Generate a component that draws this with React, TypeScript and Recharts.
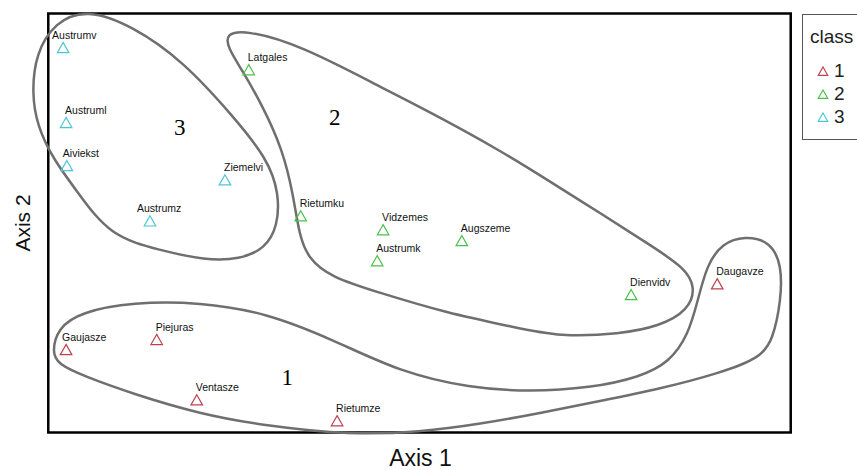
import {
  ComposedChart,
  Legend,
  Line,
  ReferenceArea,
  Scatter,
  XAxis,
  YAxis,
} from "recharts";

// ============================================================================
// Data (ordination scores, frame spans 0..100 on both)
// ============================================================================

const SITES = [
  "Austrumv", "Austruml", "Aiviekst", "Austrumz", "Ziemelvi",
  "Latgales", "Rietumku", "Vidzemes", "Austrumk", "Augszeme", "Dienvidv",
  "Daugavze", "Gaujasze", "Piejuras", "Ventasze", "Rietumze",
];
const AXIS1 = [2.0, 2.4, 2.5, 13.7, 23.8, 27.0, 34.0, 45.1, 44.3, 55.7, 78.5, 90.1, 2.4, 14.6, 20.0, 38.9];
const AXIS2 = [91.8, 73.9, 63.6, 50.4, 60.2, 86.5, 51.6, 48.3, 40.9, 45.7, 32.8, 35.4, 19.7, 22.1, 7.7, 2.7];
const CLASS = [3, 3, 3, 3, 3, 2, 2, 2, 2, 2, 2, 1, 1, 1, 1, 1];
const CLASSES = [1, 2, 3];

// hand-drawn group outlines (x, y pairs in axis units)
const HULL_1: [number, number][] = [
  [0.5, 19.2], [1.3, 24.9], [4.3, 28.7], [11.4, 31.1], [20.4, 31.1], [29.5, 28.5],
  [38.4, 22.1], [47.4, 14.4], [56.8, 10.6], [64.9, 9.7], [73.0, 10.6], [79.7, 13.2],
  [83.7, 16.8], [86.2, 23.3], [87.5, 31.6], [88.7, 40.0], [90.8, 45.2], [93.8, 46.9],
  [97.2, 45.7], [98.8, 40.0], [98.7, 31.6], [97.6, 22.1], [95.9, 17.8], [90.5, 14.2],
  [82.4, 10.4], [74.3, 7.5], [66.2, 4.6], [58.2, 2.0], [50.1, 0.1], [40.6, -0.6],
  [29.5, 1.5], [20.4, 4.4], [11.4, 9.2], [4.7, 13.5], [1.3, 16.3],
];
const HULL_2: [number, number][] = [
  [23.9, 95.1], [26.5, 96.1], [33.9, 92.5], [44.7, 82.5], [51.4, 76.5], [60.8, 67.4],
  [67.2, 60.3], [74.3, 52.4], [81.1, 44.7], [85.8, 39.2], [87.2, 34.5], [86.2, 29.2],
  [82.4, 25.4], [77.0, 23.5], [68.9, 22.8], [62.6, 25.2], [53.7, 28.5], [44.7, 33.3],
  [38.0, 37.1], [35.0, 41.6], [33.8, 47.1], [33.0, 56.7], [31.6, 67.4], [28.8, 78.2],
  [26.1, 86.5], [24.2, 91.8],
];
const HULL_3: [number, number][] = [
  [5.2, 101.1], [11.4, 97.0], [18.2, 88.6], [24.9, 75.5], [29.5, 65.4], [31.1, 57.1],
  [30.9, 49.2], [29.2, 43.9], [25.8, 41.3], [21.1, 41.1], [15.1, 43.5], [8.3, 46.8],
  [3.9, 57.5], [0.6, 65.4], [-1.5, 73.3], [-2.2, 80.9], [-1.7, 90.4], [0.9, 98.0],
];
const HULLS = [HULL_1, HULL_2, HULL_3];

// group numbers written inside the outlines
const GROUP_TAGS = ["1", "2", "3"];
const GROUP_X = [32.2, 38.6, 17.7];
const GROUP_Y = [13.2, 75.3, 72.9];

// ============================================================================
// Styles
// ============================================================================

const COLORS: Record<number, string> = {
  1: "#c0404e",
  2: "#4cc04c",
  3: "#4cc6d6",
};
const HULL_STROKE = "#6f6f6f";
const SANS = "'Liberation Sans', Arial, sans-serif";
const SERIF = "'Liberation Serif', 'Times New Roman', serif";

// a few labels sit further left of their marker in the original plot
const LABEL_NUDGE: Record<string, number> = {
  Austrumv: -10,
  Austrumz: -12,
  Aiviekst: -3,
  Gaujasze: -3,
};

function triPath(cx: number, cy: number, r: number) {
  return `M${cx},${cy - r} L${cx + r * 1.05},${cy + r * 0.85} L${cx - r * 1.05},${cy + r * 0.85} Z`;
}

function SiteMarker(props: any) {
  const { cx, cy, payload, fill } = props;
  if (cx == null || cy == null) return null;
  const dx = LABEL_NUDGE[payload.name] ?? 0;
  return (
    <g>
      <path d={triPath(cx, cy, 5.5)} fill="none" stroke={fill} strokeWidth={1.2} />
      <text
        x={cx - 1 + dx}
        y={cy - 9}
        fontSize={10.5}
        fontFamily={SANS}
        fill="#111"
      >
        {payload.name}
      </text>
    </g>
  );
}

function GroupTag(props: any) {
  const { cx, cy, payload } = props;
  if (cx == null || cy == null) return null;
  return (
    <text
      x={cx}
      y={cy}
      fontSize={23}
      fontFamily={SERIF}
      textAnchor="middle"
      dominantBaseline="central"
      fill="#000"
    >
      {payload.tag}
    </text>
  );
}

// legend box runs off the right edge of the picture, as in the original
function ClassLegend() {
  return (
    <div
      style={{
        borderTop: "1px solid #555",
        borderLeft: "1px solid #555",
        borderBottom: "1px solid #555",
        width: 55,
        height: 126,
        overflow: "hidden",
        whiteSpace: "nowrap",
        boxSizing: "border-box",
        padding: "8px 0 0 7px",
        fontFamily: SANS,
        fontSize: 19,
        color: "#222",
        background: "#fff",
      }}
    >
      <div style={{ lineHeight: "28px", marginBottom: 8 }}>class</div>
      {CLASSES.map((c) => (
        <div
          key={c}
          style={{ display: "flex", alignItems: "center", height: 23, lineHeight: "23px" }}
        >
          <svg width={20} height={14} style={{ marginLeft: 4, flex: "none" }}>
            <path d={triPath(9, 7.5, 4.5)} fill="none" stroke={COLORS[c]} strokeWidth={1.2} />
          </svg>
          <span>{c}</span>
        </div>
      ))}
    </div>
  );
}

export default function App() {
  const sites = SITES.map((name, i) => ({
    name,
    x: AXIS1[i],
    y: AXIS2[i],
    cls: CLASS[i],
  }));
  const tags = GROUP_TAGS.map((tag, i) => ({ tag, x: GROUP_X[i], y: GROUP_Y[i] }));

  return (
    <div
      style={{
        position: "absolute",
        left: 0,
        top: 0,
        width: 857,
        height: 470,
        overflow: "hidden",
        background: "#fff",
      }}
    >
      <ComposedChart
        width={857}
        height={470}
        margin={{ top: 1, right: 44, bottom: 0, left: 0 }}
      >
        <XAxis
          type="number"
          dataKey="x"
          domain={[-3, 103]}
          allowDataOverflow
          axisLine={false}
          tickLine={false}
          tick={false}
          height={25}
          label={(p: any) => (
            <text
              x={p.viewBox.x + p.viewBox.width / 2 + 1}
              y={458}
              fontSize={23}
              fontFamily={SANS}
              textAnchor="middle"
              dominantBaseline="central"
              fill="#111"
            >
              Axis 1
            </text>
          )}
        />
        <YAxis
          type="number"
          dataKey="y"
          domain={[-3, 103]}
          allowDataOverflow
          axisLine={false}
          tickLine={false}
          tick={false}
          width={26}
          label={(p: any) => {
            const cy = p.viewBox.y + p.viewBox.height / 2;
            return (
              <text
                x={22}
                y={cy}
                transform={`rotate(-90 22 ${cy})`}
                fontSize={21}
                fontFamily={SANS}
                textAnchor="middle"
                dominantBaseline="central"
                fill="#111"
              >
                Axis 2
              </text>
            );
          }}
        />
        <ReferenceArea
          x1={0}
          x2={100}
          y1={0}
          y2={100}
          fill="none"
          stroke="#000"
          strokeWidth={2.5}
          ifOverflow="visible"
        />
        {HULLS.map((hull, i) => (
          <Line
            key={i}
            data={hull.map(([x, y]) => ({ x, y }))}
            dataKey="y"
            type="basisClosed"
            stroke={HULL_STROKE}
            strokeWidth={2.5}
            dot={false}
            activeDot={false}
            legendType="none"
            isAnimationActive={false}
          />
        ))}
        {CLASSES.map((c) => (
          <Scatter
            key={c}
            name={String(c)}
            data={sites.filter((s) => s.cls === c)}
            fill={COLORS[c]}
            shape={<SiteMarker />}
            isAnimationActive={false}
          />
        ))}
        <Scatter
          data={tags}
          shape={<GroupTag />}
          legendType="none"
          isAnimationActive={false}
        />
        <Legend
          layout="horizontal"
          verticalAlign="middle"
          align="center"
          content={() => <ClassLegend />}
          wrapperStyle={{ position: "absolute", left: 802, top: 14, width: 55, height: 126 }}
        />
      </ComposedChart>
    </div>
  );
}
